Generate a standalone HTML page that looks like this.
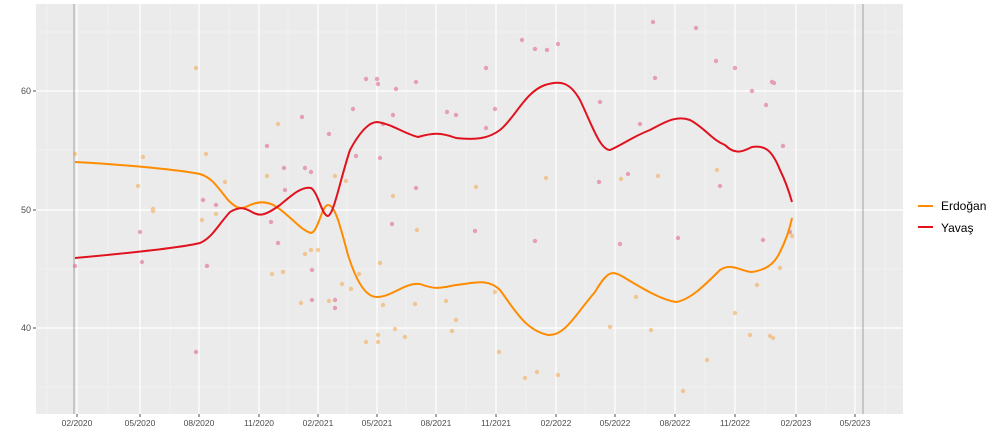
<!DOCTYPE html>
<html><head><meta charset="utf-8"><style>body{margin:0;background:#fff}svg{display:block}</style></head><body>
<svg width="1000" height="444" xmlns="http://www.w3.org/2000/svg" font-family="Liberation Sans, sans-serif">
<rect x="36" y="4" width="867" height="410" fill="#ebebeb"/>
<g stroke="#f5f5f5" stroke-width="0.6">
<line x1="36" x2="903" y1="32" y2="32"/><line x1="36" x2="903" y1="150" y2="150"/><line x1="36" x2="903" y1="269" y2="269"/><line x1="36" x2="903" y1="387" y2="387"/>
<line y1="4" y2="414" x1="47" x2="47"/><line y1="4" y2="414" x1="108" x2="108"/><line y1="4" y2="414" x1="170" x2="170"/><line y1="4" y2="414" x1="229" x2="229"/><line y1="4" y2="414" x1="288" x2="288"/><line y1="4" y2="414" x1="347" x2="347"/><line y1="4" y2="414" x1="406" x2="406"/><line y1="4" y2="414" x1="466" x2="466"/><line y1="4" y2="414" x1="526" x2="526"/><line y1="4" y2="414" x1="585" x2="585"/><line y1="4" y2="414" x1="645" x2="645"/><line y1="4" y2="414" x1="705" x2="705"/><line y1="4" y2="414" x1="765" x2="765"/><line y1="4" y2="414" x1="826" x2="826"/><line y1="4" y2="414" x1="885" x2="885"/>
</g>
<g stroke="#fff" stroke-width="1.2">
<line x1="36" x2="903" y1="91" y2="91"/><line x1="36" x2="903" y1="210" y2="210"/><line x1="36" x2="903" y1="328" y2="328"/>
<line y1="4" y2="414" x1="77" x2="77"/><line y1="4" y2="414" x1="140" x2="140"/><line y1="4" y2="414" x1="199" x2="199"/><line y1="4" y2="414" x1="259" x2="259"/><line y1="4" y2="414" x1="318" x2="318"/><line y1="4" y2="414" x1="377" x2="377"/><line y1="4" y2="414" x1="436" x2="436"/><line y1="4" y2="414" x1="496" x2="496"/><line y1="4" y2="414" x1="556" x2="556"/><line y1="4" y2="414" x1="615" x2="615"/><line y1="4" y2="414" x1="675" x2="675"/><line y1="4" y2="414" x1="735" x2="735"/><line y1="4" y2="414" x1="796" x2="796"/><line y1="4" y2="414" x1="855" x2="855"/>
</g>
<line x1="74" x2="74" y1="4" y2="414" stroke="#a0a0a0" stroke-width="1"/>
<line x1="863" x2="863" y1="4" y2="414" stroke="#a0a0a0" stroke-width="1"/>
<g fill="#e0608a" opacity="0.55">
<circle cx="75" cy="266" r="2.2"/><circle cx="140" cy="232" r="2.2"/><circle cx="142" cy="262" r="2.2"/><circle cx="196" cy="352" r="2.2"/><circle cx="203" cy="200" r="2.2"/><circle cx="207" cy="266" r="2.2"/><circle cx="216" cy="205" r="2.2"/><circle cx="267" cy="146" r="2.2"/><circle cx="271" cy="222" r="2.2"/><circle cx="278" cy="243" r="2.2"/><circle cx="284" cy="168" r="2.2"/><circle cx="285" cy="190" r="2.2"/><circle cx="302" cy="117" r="2.2"/><circle cx="305" cy="168" r="2.2"/><circle cx="312" cy="270" r="2.2"/><circle cx="311" cy="172" r="2.2"/><circle cx="312" cy="300" r="2.2"/><circle cx="335" cy="300" r="2.2"/><circle cx="329" cy="134" r="2.2"/><circle cx="335" cy="308" r="2.2"/><circle cx="353" cy="109" r="2.2"/><circle cx="356" cy="156" r="2.2"/><circle cx="366" cy="79" r="2.2"/><circle cx="377" cy="79" r="2.2"/><circle cx="378" cy="84" r="2.2"/><circle cx="383" cy="124" r="2.2"/><circle cx="380" cy="158" r="2.2"/><circle cx="393" cy="115" r="2.2"/><circle cx="396" cy="89" r="2.2"/><circle cx="392" cy="224" r="2.2"/><circle cx="416" cy="82" r="2.2"/><circle cx="416" cy="188" r="2.2"/><circle cx="447" cy="112" r="2.2"/><circle cx="456" cy="115" r="2.2"/><circle cx="475" cy="231" r="2.2"/><circle cx="486" cy="68" r="2.2"/><circle cx="486" cy="128" r="2.2"/><circle cx="495" cy="109" r="2.2"/><circle cx="522" cy="40" r="2.2"/><circle cx="535" cy="49" r="2.2"/><circle cx="547" cy="50" r="2.2"/><circle cx="535" cy="241" r="2.2"/><circle cx="558" cy="44" r="2.2"/><circle cx="599" cy="182" r="2.2"/><circle cx="600" cy="102" r="2.2"/><circle cx="628" cy="174" r="2.2"/><circle cx="620" cy="244" r="2.2"/><circle cx="640" cy="124" r="2.2"/><circle cx="653" cy="22" r="2.2"/><circle cx="655" cy="78" r="2.2"/><circle cx="678" cy="238" r="2.2"/><circle cx="696" cy="28" r="2.2"/><circle cx="716" cy="61" r="2.2"/><circle cx="720" cy="186" r="2.2"/><circle cx="735" cy="68" r="2.2"/><circle cx="752" cy="91" r="2.2"/><circle cx="766" cy="105" r="2.2"/><circle cx="772" cy="82" r="2.2"/><circle cx="774" cy="83" r="2.2"/><circle cx="783" cy="146" r="2.2"/><circle cx="790" cy="232" r="2.2"/><circle cx="763" cy="240" r="2.2"/>
</g>
<g fill="#f5a040" opacity="0.5">
<circle cx="75" cy="154" r="2.2"/><circle cx="138" cy="186" r="2.2"/><circle cx="143" cy="157" r="2.2"/><circle cx="153" cy="209" r="2.2"/><circle cx="153" cy="211" r="2.2"/><circle cx="196" cy="68" r="2.2"/><circle cx="206" cy="154" r="2.2"/><circle cx="202" cy="220" r="2.2"/><circle cx="216" cy="214" r="2.2"/><circle cx="225" cy="182" r="2.2"/><circle cx="267" cy="176" r="2.2"/><circle cx="272" cy="274" r="2.2"/><circle cx="278" cy="124" r="2.2"/><circle cx="283" cy="272" r="2.2"/><circle cx="301" cy="303" r="2.2"/><circle cx="305" cy="254" r="2.2"/><circle cx="311" cy="250" r="2.2"/><circle cx="318" cy="250" r="2.2"/><circle cx="329" cy="301" r="2.2"/><circle cx="335" cy="176" r="2.2"/><circle cx="342" cy="284" r="2.2"/><circle cx="346" cy="181" r="2.2"/><circle cx="351" cy="289" r="2.2"/><circle cx="359" cy="274" r="2.2"/><circle cx="366" cy="342" r="2.2"/><circle cx="378" cy="335" r="2.2"/><circle cx="378" cy="342" r="2.2"/><circle cx="380" cy="263" r="2.2"/><circle cx="383" cy="305" r="2.2"/><circle cx="393" cy="196" r="2.2"/><circle cx="395" cy="329" r="2.2"/><circle cx="405" cy="337" r="2.2"/><circle cx="415" cy="304" r="2.2"/><circle cx="417" cy="230" r="2.2"/><circle cx="446" cy="301" r="2.2"/><circle cx="452" cy="331" r="2.2"/><circle cx="456" cy="320" r="2.2"/><circle cx="476" cy="187" r="2.2"/><circle cx="495" cy="292" r="2.2"/><circle cx="499" cy="352" r="2.2"/><circle cx="525" cy="378" r="2.2"/><circle cx="537" cy="372" r="2.2"/><circle cx="546" cy="178" r="2.2"/><circle cx="558" cy="375" r="2.2"/><circle cx="610" cy="327" r="2.2"/><circle cx="621" cy="179" r="2.2"/><circle cx="636" cy="297" r="2.2"/><circle cx="651" cy="330" r="2.2"/><circle cx="658" cy="176" r="2.2"/><circle cx="683" cy="391" r="2.2"/><circle cx="707" cy="360" r="2.2"/><circle cx="717" cy="170" r="2.2"/><circle cx="735" cy="313" r="2.2"/><circle cx="750" cy="335" r="2.2"/><circle cx="757" cy="285" r="2.2"/><circle cx="770" cy="336" r="2.2"/><circle cx="773" cy="338" r="2.2"/><circle cx="780" cy="268" r="2.2"/><circle cx="792" cy="236" r="2.2"/>
</g>
<path fill="none" stroke="#ff8c00" stroke-width="2" stroke-linejoin="round" d="M75,162 C130,165 180,170 200,174 C212,178 216,185 228,200 C236,208 240,210 248,206 C256,202 265,200 275,206 C290,215 300,230 311,233 C318,232 322,205 328,205 C335,205 340,225 348,255 C356,280 365,297 377,297 C392,297 405,282 420,284 C436,290 440,288 456,285 C475,283 488,278 500,290 C515,310 525,330 548,335 C565,336 575,315 595,292 C608,270 612,270 625,278 C645,290 662,300 676,302 C690,300 705,285 720,270 C732,262 742,272 752,272 C765,270 774,265 780,252 C786,240 790,228 792,218"/>
<path fill="none" stroke="#e0121e" stroke-width="2" stroke-linejoin="round" d="M75,258 C130,253 180,248 200,243 C212,238 218,225 230,212 C240,206 245,208 252,212 C260,217 266,215 280,205 C292,195 302,186 311,188 C318,192 322,216 328,216 C334,214 340,180 350,150 C358,135 368,122 377,122 C392,124 405,134 418,137 C432,133 440,132 456,138 C475,140 488,139 500,130 C515,118 525,92 545,85 C560,80 570,82 580,100 C592,125 600,150 610,150 C622,145 632,137 650,130 C665,122 676,115 690,120 C705,128 712,140 725,145 C735,155 742,152 752,147 C765,145 772,150 780,170 C786,182 790,195 792,202"/>
<g fill="#4d4d4d" font-size="9" text-anchor="end">
<text x="31" y="94">60</text><text x="31" y="213">50</text><text x="31" y="331">40</text></g>
<g stroke="#4d4d4d" stroke-width="1">
<line x1="33" x2="36" y1="91" y2="91"/><line x1="33" x2="36" y1="210" y2="210"/><line x1="33" x2="36" y1="328" y2="328"/>
<line y1="414" y2="417" x1="77" x2="77"/><line y1="414" y2="417" x1="140" x2="140"/><line y1="414" y2="417" x1="199" x2="199"/><line y1="414" y2="417" x1="259" x2="259"/><line y1="414" y2="417" x1="318" x2="318"/><line y1="414" y2="417" x1="377" x2="377"/><line y1="414" y2="417" x1="436" x2="436"/><line y1="414" y2="417" x1="496" x2="496"/><line y1="414" y2="417" x1="556" x2="556"/><line y1="414" y2="417" x1="615" x2="615"/><line y1="414" y2="417" x1="675" x2="675"/><line y1="414" y2="417" x1="735" x2="735"/><line y1="414" y2="417" x1="796" x2="796"/><line y1="414" y2="417" x1="855" x2="855"/>
</g>
<g fill="#4d4d4d" font-size="8.5" text-anchor="middle">
<text x="77" y="426">02/2020</text><text x="140" y="426">05/2020</text><text x="199" y="426">08/2020</text><text x="259" y="426">11/2020</text><text x="318" y="426">02/2021</text><text x="377" y="426">05/2021</text><text x="436" y="426">08/2021</text><text x="496" y="426">11/2021</text><text x="556" y="426">02/2022</text><text x="615" y="426">05/2022</text><text x="675" y="426">08/2022</text><text x="735" y="426">11/2022</text><text x="796" y="426">02/2023</text><text x="855" y="426">05/2023</text></g>
<line x1="918" x2="933" y1="206" y2="206" stroke="#ff8c00" stroke-width="2"/>
<line x1="918" x2="933" y1="227" y2="227" stroke="#e0121e" stroke-width="2"/>
<g font-size="12" fill="#000"><text x="941" y="210">Erdoğan</text><text x="941" y="232">Yavaş</text></g>
</svg>
</body></html>
